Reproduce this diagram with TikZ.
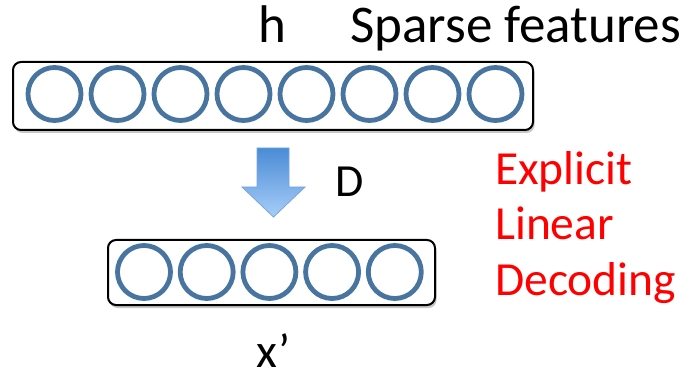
\documentclass[tikz,border=0pt]{standalone}
\usepackage{fontspec}
\setmainfont{Carlito}
\usetikzlibrary{shadows}
\definecolor{unitblue}{RGB}{72,116,160}
\definecolor{arrtop}{RGB}{74,140,214}
\definecolor{arrbot}{RGB}{168,205,248}
\definecolor{arredge}{RGB}{120,165,222}
\tikzset{
  layerbox/.style={draw=black, line width=2pt, rounded corners=8pt, fill=white,
    drop shadow={shadow xshift=1.5pt, shadow yshift=-3pt, fill=black, opacity=0.22},
    inner sep=0pt},
  unit/.style={circle, draw=unitblue, line width=4.8pt, minimum size=53pt, inner sep=0pt},
  bigtxt/.style={font=\fontsize{53}{63}\selectfont, inner sep=0pt, anchor=base west},
  midtxt/.style={font=\fontsize{46}{55}\selectfont, inner sep=0pt, anchor=base west},
  redtxt/.style={font=\fontsize{47.5}{57}\selectfont, inner sep=0pt, anchor=base west, text=red}
}
\begin{document}
\begin{tikzpicture}[x=1pt,y=-1pt]
\useasboundingbox (0,0) rectangle (693,371);
% top layer
\node[layerbox, minimum width=520pt, minimum height=68pt] (hbox) at (273,96) {};
\foreach \i in {0,...,7} {
  \node[unit] (h\i) at ({54.5+63*\i},94) {};
}
% bottom layer
\node[layerbox, minimum width=327pt, minimum height=65pt] (xbox) at (271.5,272.5) {};
\foreach \i in {0,...,4} {
  \node[unit] (x\i) at ({144+62.7*\i},272) {};
}
% arrow
\shade[top color=arrtop, bottom color=arrbot, draw=arredge, line width=0.8pt, line join=miter]
  (257,148) -- (289,148) -- (289,187) -- (305,187) -- (273.5,217) -- (242,187) -- (257,187) -- cycle;
% texts
\node[bigtxt] (hlab) at (258,43) {h};
\node[bigtxt] (sparse) at (350,43) {Sparse features};
\node[midtxt] (dlab) at (335,197) {D};
\node[redtxt] (e1) at (495,185) {Explicit};
\node[redtxt] (e2) at (495,240) {Linear};
\node[redtxt] (e3) at (495,295) {Decoding};
\node[font=\fontsize{48}{56}\selectfont, inner sep=0pt, anchor=base west] (xlab) at (256,367) {x’};
\end{tikzpicture}
\end{document}
